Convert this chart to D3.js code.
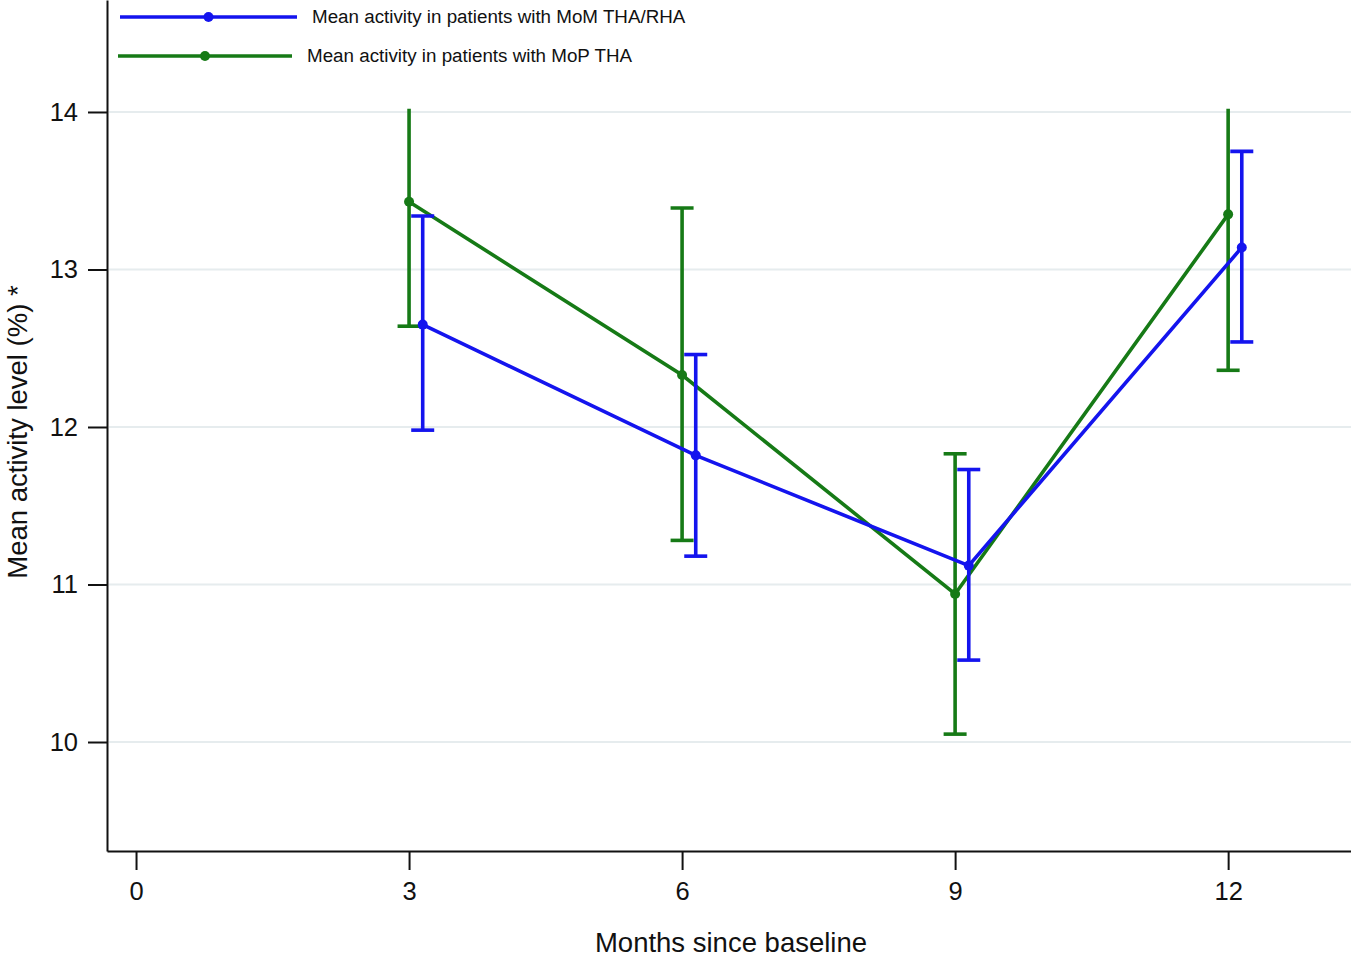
<!DOCTYPE html>
<html>
<head>
<meta charset="utf-8">
<script src="https://cdn.jsdelivr.net/npm/d3@7"></script>
<style>
  body { margin: 0; background: #fff; }
  text { font-family: "Liberation Sans", Arial, sans-serif; }
</style>
</head>
<body>
<div id="chart"></div>
<script>
var width = 1351, height = 959;

// data
var months = [3, 6, 9, 12];
var xTicks = [0, 3, 6, 9, 12];
var yTicks = [10, 11, 12, 13, 14];
var momMean  = [12.65, 11.82, 11.12, 13.14];
var momLower = [11.98, 11.18, 10.52, 12.54];
var momUpper = [13.34, 12.46, 11.73, 13.75];
var mopMean  = [13.43, 12.33, 10.94, 13.35];
var mopLower = [12.64, 11.28, 10.05, 12.36];
var mopUpper = [14.25, 13.39, 11.83, 14.25];
var seriesNames = ["Mean activity in patients with MoM THA/RHA", "Mean activity in patients with MoP THA"];

var margin = {left: 107, top: 0, right: 0, bottom: 108};
var x = d3.scaleLinear().domain([-0.319, 13.35]).range([margin.left, width - margin.right]);
var y = d3.scaleLinear().domain([9.308, 14.711]).range([height - margin.bottom, margin.top]);

var series = [
  {name: seriesNames[1], colour: "#167a16", dodge: 0, mean: mopMean, lo: mopLower, hi: mopUpper},
  {name: seriesNames[0], colour: "#1414ee", dodge: 0.15, mean: momMean, lo: momLower, hi: momUpper}
];
var lw = 3.6;

var svg = d3.select("#chart").append("svg")
  .attr("width", width).attr("height", height);

// clip: bars that run past the top of the range lose their caps
svg.append("clipPath").attr("id", "clip")
  .append("rect")
  .attr("x", margin.left).attr("width", width - margin.left)
  .attr("y", y(14.02)).attr("height", y(9.308) - y(14.02));

// gridlines
svg.append("g").selectAll("line").data(yTicks).enter().append("line")
  .attr("x1", margin.left + 2).attr("x2", width)
  .attr("y1", d => y(d)).attr("y2", d => y(d))
  .attr("stroke", "#e6ecee").attr("stroke-width", 2);

// axes
var yAxis = svg.append("g")
  .attr("transform", "translate(" + margin.left + ",0)")
  .call(d3.axisLeft(y).tickValues(yTicks).tickFormat(d3.format("d"))
    .tickSize(19).tickPadding(10).tickSizeOuter(0));
var xAxis = svg.append("g")
  .attr("transform", "translate(0," + (height - margin.bottom) + ")")
  .call(d3.axisBottom(x).tickValues(xTicks).tickFormat(d3.format("d"))
    .tickSize(19).tickPadding(12).tickSizeOuter(0));
[yAxis, xAxis].forEach(a => {
  a.select(".domain").attr("stroke", "#111").attr("stroke-width", 2);
  a.selectAll(".tick line").attr("stroke", "#111").attr("stroke-width", 2);
  a.selectAll(".tick text").attr("font-size", 25.5).attr("fill", "#111")
    .style("font-family", "'Liberation Sans', Arial, sans-serif");
});

// axis titles
svg.append("text")
  .attr("transform", "translate(27,432) rotate(-90)")
  .attr("text-anchor", "middle").attr("font-size", 27.5).attr("fill", "#111")
  .text("Mean activity level (%) *");
svg.append("text")
  .attr("x", 731).attr("y", 952)
  .attr("text-anchor", "middle").attr("font-size", 27.5).attr("fill", "#111")
  .text("Months since baseline");

var plot = svg.append("g");
var capHalf = 11.5;

series.forEach(s => {
  var pts = months.map((m, i) => ({x: x(m + s.dodge), mean: s.mean[i], lo: s.lo[i], hi: s.hi[i]}));
  var g = plot.append("g");
  var eb = g.append("g").attr("clip-path", "url(#clip)");
  pts.forEach(p => {
    eb.append("line").attr("x1", p.x).attr("x2", p.x)
      .attr("y1", y(p.lo)).attr("y2", y(p.hi))
      .attr("stroke", s.colour).attr("stroke-width", lw);
    [p.lo, p.hi].forEach(v => {
      eb.append("line").attr("x1", p.x - capHalf).attr("x2", p.x + capHalf)
        .attr("y1", y(v)).attr("y2", y(v))
        .attr("stroke", s.colour).attr("stroke-width", lw);
    });
  });
  g.append("path").datum(pts)
    .attr("d", d3.line().x(p => p.x).y(p => y(p.mean)))
    .attr("fill", "none").attr("stroke", s.colour).attr("stroke-width", lw);
  g.selectAll("circle").data(pts).enter().append("circle")
    .attr("cx", p => p.x).attr("cy", p => y(p.mean)).attr("r", 5)
    .attr("fill", s.colour);
});

// legend
var legend = [
  {name: seriesNames[0], colour: "#1414ee", x1: 120, x2: 297, y: 17, tx: 312},
  {name: seriesNames[1], colour: "#167a16", x1: 118, x2: 292, y: 56, tx: 307}
];
legend.forEach(l => {
  svg.append("line").attr("x1", l.x1).attr("x2", l.x2).attr("y1", l.y).attr("y2", l.y)
    .attr("stroke", l.colour).attr("stroke-width", lw);
  svg.append("circle").attr("cx", (l.x1 + l.x2) / 2).attr("cy", l.y).attr("r", 5).attr("fill", l.colour);
  svg.append("text").attr("x", l.tx).attr("y", l.y + 6).attr("font-size", 18.8).attr("fill", "#111")
    .text(l.name);
});
</script>
</body>
</html>
